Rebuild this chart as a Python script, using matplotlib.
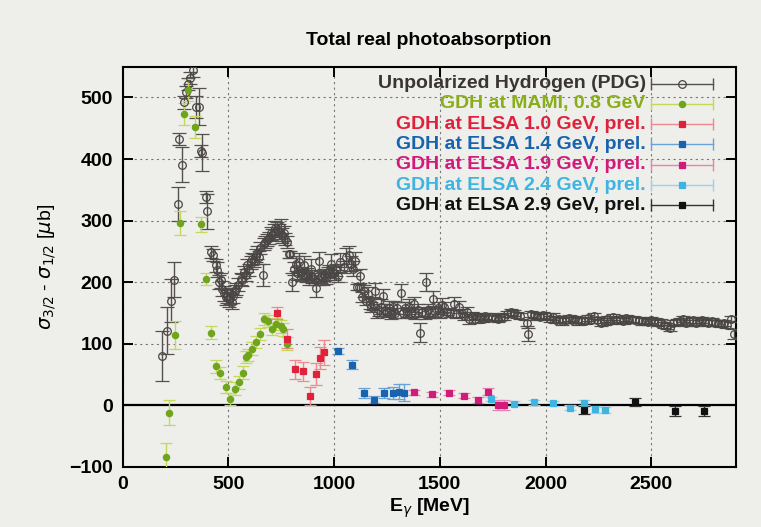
import matplotlib
matplotlib.use("Agg")
import matplotlib.pyplot as plt

plt.rcParams['font.family'] = ['Liberation Sans Narrow', 'Liberation Sans', 'DejaVu Sans']
plt.rcParams['mathtext.fontset'] = 'dejavusans'

# Unpolarized hydrogen total cross section (PDG)
pdg_e = [189, 209, 228, 244, 262, 267, 280, 291, 299, 310,
         319, 335, 346, 361, 369, 376, 393, 398, 417, 426,
         440, 448, 457, 464, 471, 480, 488, 495, 502, 510,
         516, 522, 530, 537, 546, 558, 566, 574, 582, 590,
         598, 606, 613, 621, 629, 637, 645, 652, 662, 668,
         676, 684, 692, 700, 708, 715, 723, 731, 739, 747,
         755, 763, 770, 778, 786, 794, 802, 810, 818, 826,
         834, 842, 850, 858, 866, 874, 882, 890, 898, 906,
         914, 922, 930, 938, 946, 954, 962, 970, 978, 986,
         994, 1002, 1010, 1018, 1030, 1045, 1058, 1069, 1078, 1088,
         1098, 1108, 1116, 1124, 1134, 1142, 1150, 1160, 1168, 1176,
         1185, 1195, 1204, 1212, 1222, 1231, 1242, 1250, 1260, 1270,
         1280, 1290, 1300, 1316, 1325, 1335, 1345, 1355, 1365, 1376,
         1385, 1395, 1407, 1418, 1428, 1435, 1445, 1456, 1467, 1478,
         1490, 1500, 1510, 1520, 1535, 1550, 1565, 1578, 1590, 1603,
         1615, 1628, 1640, 1652, 1665, 1678, 1690, 1703, 1716, 1730,
         1745, 1760, 1775, 1790, 1805, 1820, 1835, 1850, 1865, 1880,
         1913, 1918, 1930, 1945, 1960, 1975, 1990, 2005, 2020, 2035,
         2050, 2065, 2080, 2095, 2110, 2125, 2140, 2155, 2170, 2185,
         2200, 2215, 2230, 2245, 2260, 2275, 2290, 2305, 2320, 2335,
         2350, 2365, 2380, 2395, 2410, 2425, 2440, 2455, 2470, 2485,
         2500, 2515, 2530, 2545, 2560, 2575, 2590, 2605, 2620, 2635,
         2650, 2665, 2680, 2695, 2710, 2725, 2740, 2755, 2770, 2785,
         2800, 2815, 2830, 2845, 2860, 2875, 2890]
pdg_sig = [80, 121, 170, 204, 327, 432, 391, 492, 509, 522,
           532, 545, 484, 485, 413, 410, 338, 315, 249, 244,
           227, 220, 200, 203, 189, 182, 175, 178, 172, 176,
           168, 178, 185, 189, 196, 205, 203, 216, 212, 227,
           220, 232, 238, 235, 243, 248, 240, 255, 211, 262,
           265, 268, 272, 279, 276, 282, 288, 285, 282, 290,
           276, 279, 270, 265, 245, 245, 200, 222, 230, 214,
           232, 215, 212, 228, 210, 213, 205, 222, 209, 205,
           190, 205, 234, 208, 206, 212, 207, 214, 218, 230,
           216, 214, 220, 210, 232, 225, 240, 244, 230, 222,
           234, 192, 192, 210, 176, 185, 170, 180, 165, 160,
           165, 186, 150, 155, 160, 177, 155, 152, 158, 148,
           160, 150, 158, 182, 150, 158, 152, 160, 150, 164,
           148, 155, 118, 152, 148, 200, 155, 150, 173, 152,
           158, 150, 162, 160, 152, 150, 165, 148, 160, 150,
           145, 152, 140, 145, 140, 145, 143, 140, 145, 142,
           144, 142, 140, 143, 144, 148, 152, 150, 147, 145,
           134, 115, 148, 146, 145, 143, 147, 145, 140, 144,
           138, 140, 136, 139, 141, 138, 140, 136, 139, 137,
           141, 139, 145, 138, 134, 136, 140, 137, 143, 138,
           140, 137, 141, 139, 140, 138, 139, 136, 137, 135,
           138, 136, 134, 135, 130, 128, 126, 133, 135, 137,
           140, 133, 136, 138, 134, 136, 138, 135, 134, 136,
           133, 134, 132, 133, 131, 140, 115]
pdg_err = [40, 38, 35, 28, 28, 10, 28, 10, 10, 10,
           10, 12, 18, 30, 10, 30, 10, 28, 10, 10,
           10, 12, 12, 12, 12, 12, 12, 12, 12, 12,
           12, 12, 10, 10, 10, 10, 10, 10, 10, 10,
           10, 10, 10, 10, 10, 10, 10, 10, 18, 10,
           10, 10, 10, 10, 10, 12, 12, 12, 12, 12,
           12, 12, 10, 10, 6, 6, 15, 10, 12, 10,
           15, 10, 10, 15, 10, 10, 10, 15, 10, 10,
           15, 10, 15, 10, 10, 10, 10, 10, 10, 15,
           10, 10, 10, 10, 15, 10, 15, 15, 12, 12,
           15, 5, 5, 12, 8, 10, 8, 12, 8, 8,
           10, 12, 8, 10, 12, 12, 10, 8, 12, 8,
           10, 8, 10, 15, 8, 10, 8, 12, 8, 12,
           8, 10, 15, 8, 8, 15, 10, 8, 12, 8,
           10, 8, 12, 8, 6, 6, 10, 6, 10, 6,
           6, 8, 8, 6, 6, 5, 5, 5, 5, 5,
           5, 5, 5, 5, 5, 5, 5, 5, 5, 5,
           5, 10, 5, 5, 5, 5, 5, 5, 5, 5,
           5, 5, 5, 5, 5, 5, 5, 5, 5, 5,
           5, 5, 5, 5, 5, 5, 5, 5, 5, 5,
           5, 5, 5, 5, 5, 5, 5, 5, 5, 5,
           5, 5, 5, 5, 5, 5, 5, 5, 5, 5,
           5, 5, 5, 5, 5, 5, 5, 5, 5, 5,
           5, 5, 5, 5, 5, 5, 8]

# GDH at MAMI
mami_e = [205, 221, 249, 272, 292, 311, 345, 369, 393, 416,
          440, 461, 487, 506, 531, 550, 571, 583, 593, 610,
          632, 652, 671, 690, 707, 727, 747, 760, 778]
mami_sig = [-84, -12, 114, 296, 473, 512, 452, 294, 205, 118,
            63, 52, 30, 10, 27, 37, 53, 78, 82, 92,
            103, 116, 140, 137, 124, 132, 128, 123, 100]
mami_err = [22, 20, 22, 20, 18, 18, 18, 12, 10, 10,
            10, 10, 10, 10, 10, 10, 10, 10, 10, 10,
            10, 10, 10, 10, 10, 10, 10, 10, 10]

# GDH at ELSA, preliminary
elsa10_e = [731, 778, 814, 852, 885, 915, 935, 954]
elsa10_sig = [150, 108, 58, 55, 15, 51, 77, 86]
elsa10_err = [10, 15, 15, 15, 15, 18, 18, 20]

elsa14_e = [1020, 1085, 1140, 1190, 1238, 1280, 1306, 1330]
elsa14_sig = [88, 66, 20, 9, 20, 20, 22, 20]
elsa14_err = [5, 8, 8, 6, 8, 10, 12, 14]

elsa19_e = [1380, 1465, 1543, 1615, 1679, 1730, 1775, 1806]
elsa19_sig = [21, 18, 20, 15, 9, 22, 0, 0]
elsa19_err = [4, 4, 4, 4, 5, 6, 8, 8]

elsa24_e = [1742, 1850, 1945, 2035, 2117, 2181, 2236, 2281]
elsa24_sig = [10, 2, 5, 3, -4, 4, -7, -8]
elsa24_err = [4, 4, 4, 4, 4, 4, 5, 5]

elsa29_e = [2182, 2422, 2612, 2750]
elsa29_sig = [-8, 5, -10, -10]
elsa29_err = [6, 7, 8, 8]

bg = '#eeeeea'
fig = plt.figure(figsize=(7.61, 5.27), dpi=100, facecolor=bg)
ax = fig.add_axes([0.161, 0.1144, 0.806, 0.759], facecolor=bg)

ax.axhline(0, color='black', lw=1.6, zorder=1)
ax.grid(True, color='#777777', linestyle=(0, (2, 3)), linewidth=0.8)
ax.set_axisbelow(True)

# (label, x, y, err, marker, face, marker edge, bar colour, text colour, size, cap)
series = [
    ('Unpolarized Hydrogen (PDG)', pdg_e, pdg_sig, pdg_err, 'o', 'none', '#4a4545', '#555050', '#3a3535', 5.5, 5),
    ('GDH at MAMI, 0.8 GeV', mami_e, mami_sig, mami_err, 'o', '#6fa51c', '#6fa51c', '#c4d85a', '#8aad1a', 4.5, 4),
    ('GDH at ELSA 1.0 GeV, prel.', elsa10_e, elsa10_sig, elsa10_err, 's', '#e0213c', '#e0213c', '#ec8a90', '#e0213c', 5, 4),
    ('GDH at ELSA 1.4 GeV, prel.', elsa14_e, elsa14_sig, elsa14_err, 's', '#1763b0', '#1763b0', '#6aa2d8', '#1763b0', 5, 4),
    ('GDH at ELSA 1.9 GeV, prel.', elsa19_e, elsa19_sig, elsa19_err, 's', '#d21a7a', '#d21a7a', '#e784b6', '#d21a7a', 5, 4),
    ('GDH at ELSA 2.4 GeV, prel.', elsa24_e, elsa24_sig, elsa24_err, 's', '#3fb4e0', '#3fb4e0', '#95d4ee', '#3fb4e0', 5, 4),
    ('GDH at ELSA 2.9 GeV, prel.', elsa29_e, elsa29_sig, elsa29_err, 's', '#111111', '#111111', '#333333', '#111111', 5, 4),
]

for lab, xs, ys, es, mk, fc, ec, bc, tc, ms, cap in series:
    ax.errorbar(xs, ys, yerr=es, fmt=mk, mfc=fc, mec=ec, ms=ms, mew=0.9,
                ecolor=bc, elinewidth=1.0, capsize=cap, capthick=1.0, zorder=3)

# key drawn on the right inside the frame
y0 = 0.958
dy = 0.0508
for i, (lab, xs, ys, es, mk, fc, ec, bc, tc, ms, cap) in enumerate(series):
    yy = y0 - i * dy
    ax.text(0.853, yy, lab, transform=ax.transAxes, ha='right', va='center',
            color=tc, fontsize=14, fontweight='bold')
    ax.plot([0.862, 0.963], [yy, yy], transform=ax.transAxes, color=bc, lw=1.0)
    ax.plot([0.862, 0.963], [yy, yy], transform=ax.transAxes, color=bc,
            marker='|', ms=8, mew=1.0, linestyle='none')
    ax.plot([0.912], [yy], transform=ax.transAxes, marker=mk, mfc=fc, mec=ec,
            ms=ms, mew=0.9, linestyle='none')

ax.set_xlim(0, 2900)
ax.set_ylim(-100, 550)
ax.set_xticks([0, 500, 1000, 1500, 2000, 2500])
ax.set_yticks([-100, 0, 100, 200, 300, 400, 500])
ax.tick_params(direction='in', length=7, width=1.4, top=True, right=True,
               labelsize=14, pad=7)
for t in ax.get_xticklabels() + ax.get_yticklabels():
    t.set_fontweight('bold')
for s in ax.spines.values():
    s.set_linewidth(1.5)

ax.set_xlabel(r'E$_\gamma$ [MeV]', fontsize=14, fontweight='bold', labelpad=2)
ax.set_ylabel(r'$\sigma_{3/2}$ - $\sigma_{1/2}$ [$\mu$b]', fontsize=14, labelpad=8)
fig.text(0.5635, 0.924, 'Total real photoabsorption', ha='center', va='center',
         fontsize=14, fontweight='bold')

fig.savefig('out.png', dpi=100, facecolor=bg)
